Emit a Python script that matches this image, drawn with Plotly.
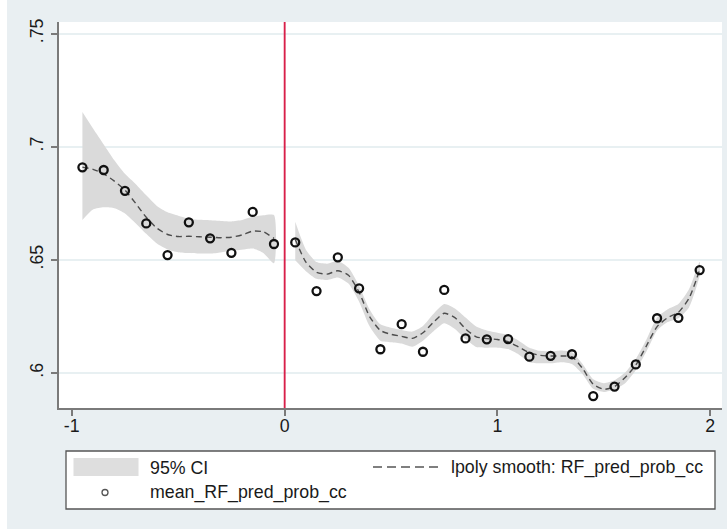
import plotly.graph_objects as go

# ---------------- data ----------------
bin_x = [-0.95, -0.85, -0.75, -0.65, -0.55, -0.45, -0.35, -0.25, -0.15, -0.05,
         0.05, 0.15, 0.25, 0.35, 0.45, 0.55, 0.65, 0.75, 0.85, 0.95,
         1.05, 1.15, 1.25, 1.35, 1.45, 1.55, 1.65, 1.75, 1.85, 1.95]
mean_y = [0.6909, 0.6897, 0.6805, 0.6661, 0.6521, 0.6666, 0.6595, 0.6531, 0.6712, 0.6570,
          0.6577, 0.6362, 0.6511, 0.6374, 0.6105, 0.6216, 0.6094, 0.6367, 0.6153, 0.6149,
          0.6150, 0.6072, 0.6076, 0.6083, 0.5898, 0.5940, 0.6038, 0.6242, 0.6244, 0.6455]

grid_L = [-0.95, -0.90, -0.85, -0.80, -0.75, -0.70, -0.65, -0.60, -0.55, -0.50,
          -0.45, -0.40, -0.35, -0.30, -0.25, -0.20, -0.15, -0.10, -0.05]
fit_L = [0.6910, 0.6900, 0.6880, 0.6848, 0.6808, 0.6750, 0.6688, 0.6640, 0.6612, 0.6603,
         0.6604, 0.6602, 0.6600, 0.6598, 0.6600, 0.6610, 0.6627, 0.6624, 0.6595]
hi_L = [0.7153, 0.7080, 0.7010, 0.6940, 0.6880, 0.6835, 0.6785, 0.6738, 0.6710, 0.6695,
        0.6682, 0.6677, 0.6675, 0.6672, 0.6670, 0.6676, 0.6690, 0.6697, 0.6698]
lo_L = [0.6676, 0.6722, 0.6732, 0.6728, 0.6705, 0.6662, 0.6615, 0.6572, 0.6546, 0.6534,
        0.6530, 0.6528, 0.6528, 0.6533, 0.6540, 0.6545, 0.6550, 0.6530, 0.6485]

grid_R = [0.05, 0.10, 0.15, 0.20, 0.25, 0.30, 0.35, 0.40, 0.45, 0.50,
          0.55, 0.60, 0.65, 0.70, 0.75, 0.80, 0.85, 0.90, 0.95, 1.00,
          1.05, 1.10, 1.15, 1.20, 1.25, 1.30, 1.35, 1.40, 1.45, 1.50,
          1.55, 1.60, 1.65, 1.70, 1.75, 1.80, 1.85, 1.90, 1.95]
fit_R = [0.6590, 0.6490, 0.6445, 0.6437, 0.6452, 0.6432, 0.6357, 0.6248, 0.6188, 0.6171,
         0.6162, 0.6153, 0.6178, 0.6225, 0.6264, 0.6245, 0.6195, 0.6160, 0.6152, 0.6148,
         0.6138, 0.6115, 0.6090, 0.6078, 0.6075, 0.6075, 0.6072, 0.6020, 0.5950, 0.5928,
         0.5940, 0.5980, 0.6035, 0.6120, 0.6205, 0.6245, 0.6268, 0.6330, 0.6455]
lo_R = [0.6498, 0.6450, 0.6416, 0.6411, 0.6422, 0.6395, 0.6315, 0.6205, 0.6143, 0.6136,
        0.6130, 0.6116, 0.6143, 0.6185, 0.6220, 0.6195, 0.6150, 0.6115, 0.6112, 0.6112,
        0.6106, 0.6082, 0.6048, 0.6043, 0.6043, 0.6048, 0.6040, 0.5995, 0.5930, 0.5916,
        0.5928, 0.5955, 0.6012, 0.6095, 0.6188, 0.6225, 0.6242, 0.6290, 0.6432]
hi_R = [0.6668, 0.6545, 0.6490, 0.6483, 0.6495, 0.6465, 0.6385, 0.6280, 0.6215, 0.6200,
        0.6190, 0.6183, 0.6208, 0.6262, 0.6305, 0.6285, 0.6245, 0.6205, 0.6188, 0.6178,
        0.6168, 0.6143, 0.6112, 0.6098, 0.6095, 0.6100, 0.6092, 0.6040, 0.5972, 0.5955,
        0.5968, 0.6002, 0.6062, 0.6148, 0.6245, 0.6282, 0.6305, 0.6370, 0.6492]

x_ticks = [-1, 0, 1, 2]
x_ticktext = ["-1", "0", "1", "2"]
y_ticks = [0.60, 0.65, 0.70, 0.75]
y_ticktext = [".6", ".65", ".7", ".75"]

legend_ci = "95% CI"
legend_fit = "lpoly smooth: RF_pred_prob_cc"
legend_mean = "mean_RF_pred_prob_cc"

# ---------------- style ----------------
W, H = 727, 529
ML, MR, MT, MB = 59, 5, 22, 121
BG = "#e9eff2"
BAND = "#dadada"
FONT = "Liberation Sans, Arial, sans-serif"
AXC = "#7a7a7a"
TXT = "#1a1a1a"
FS = 17.8

fig = go.Figure()

for gx, lo, hi in [(grid_L, lo_L, hi_L), (grid_R, lo_R, hi_R)]:
    fig.add_trace(go.Scatter(
        x=gx + gx[::-1], y=hi + lo[::-1], fill="toself", fillcolor=BAND,
        line=dict(width=0, shape="spline", smoothing=0.6), mode="lines",
        hoverinfo="skip", showlegend=False))

for gx, fy_ in [(grid_L, fit_L), (grid_R, fit_R)]:
    fig.add_trace(go.Scatter(
        x=gx, y=fy_, mode="lines",
        line=dict(color="#4d4d4d", width=1.4, dash="6px,4px", shape="spline", smoothing=0.6),
        showlegend=False))

fig.add_trace(go.Scatter(
    x=bin_x, y=mean_y, mode="markers",
    marker=dict(symbol="circle-open", size=8, color="#111111", line=dict(width=2.3, color="#111111")),
    showlegend=False))

fig.add_vline(x=0, line=dict(color="#d8204a", width=1.5), layer="above")

# pixel -> paper helpers
PW = W - ML - MR
PH = H - MT - MB
def fx(px):
    return (px - ML) / PW
def fy(py):
    return (H - MB - py) / PH

shapes = []
shapes.append(dict(type="rect", xref="paper", yref="paper", x0=fx(0), x1=fx(W), y0=fy(3), y1=fy(0),
                   fillcolor="white", line=dict(width=0), layer="below"))
shapes.append(dict(type="rect", xref="paper", yref="paper", x0=fx(0), x1=fx(7), y0=fy(H), y1=fy(0),
                   fillcolor="white", line=dict(width=0), layer="below"))
# legend box
shapes.append(dict(type="rect", xref="paper", yref="paper", x0=fx(66), x1=fx(715), y0=fy(509), y1=fy(451),
                   fillcolor="white", line=dict(color="#555555", width=1.3)))
shapes.append(dict(type="rect", xref="paper", yref="paper", x0=fx(73.5), x1=fx(138.5), y0=fy(476), y1=fy(458),
                   fillcolor="#dedede", line=dict(width=0)))
shapes.append(dict(type="line", xref="paper", yref="paper", x0=fx(373), x1=fx(440), y0=fy(467), y1=fy(467),
                   line=dict(color="#555555", width=1.4, dash="9px,5px")))
shapes.append(dict(type="circle", xref="paper", yref="paper", x0=fx(102), x1=fx(108), y0=fy(495.5), y1=fy(489.5),
                   line=dict(color="#555555", width=1.3), fillcolor="rgba(0,0,0,0)"))

annotations = [
    dict(text=legend_ci, x=fx(147.5), y=fy(468), xref="paper", yref="paper", xanchor="left", yanchor="middle",
         showarrow=False, font=dict(size=FS, color=TXT, family=FONT)),
    dict(text=legend_fit, x=fx(449), y=fy(467), xref="paper", yref="paper", xanchor="left", yanchor="middle",
         showarrow=False, font=dict(size=FS, color=TXT, family=FONT)),
    dict(text=legend_mean, x=fx(147.5), y=fy(492.5), xref="paper", yref="paper", xanchor="left", yanchor="middle",
         showarrow=False, font=dict(size=FS, color=TXT, family=FONT)),
]

fig.update_layout(
    width=W, height=H,
    margin=dict(l=ML, r=MR, t=MT, b=MB, pad=0),
    paper_bgcolor=BG, plot_bgcolor="white",
    font=dict(family=FONT, size=FS, color=TXT),
    showlegend=False,
    shapes=shapes + list(fig.layout.shapes),
    annotations=annotations,
    xaxis=dict(range=[-1.06, 2.055], tickvals=x_ticks, ticktext=x_ticktext,
               showgrid=False, zeroline=False, showline=True, linecolor=AXC, linewidth=2,
               ticks="outside", ticklen=6, tickwidth=1.5, tickcolor=AXC, ticklabelstandoff=-5,
               tickfont=dict(size=FS, color=TXT)),
    yaxis=dict(range=[0.58454, 0.7551], tickvals=y_ticks, ticktext=y_ticktext, tickangle=-90,
               showgrid=True, gridcolor="#e8f0f2", gridwidth=1.5, zeroline=False,
               showline=True, linecolor=AXC, linewidth=2,
               ticks="outside", ticklen=6, tickwidth=1.5, tickcolor=AXC, ticklabelstandoff=1,
               tickfont=dict(size=FS, color=TXT)),
)

fig.write_html("out.html")
